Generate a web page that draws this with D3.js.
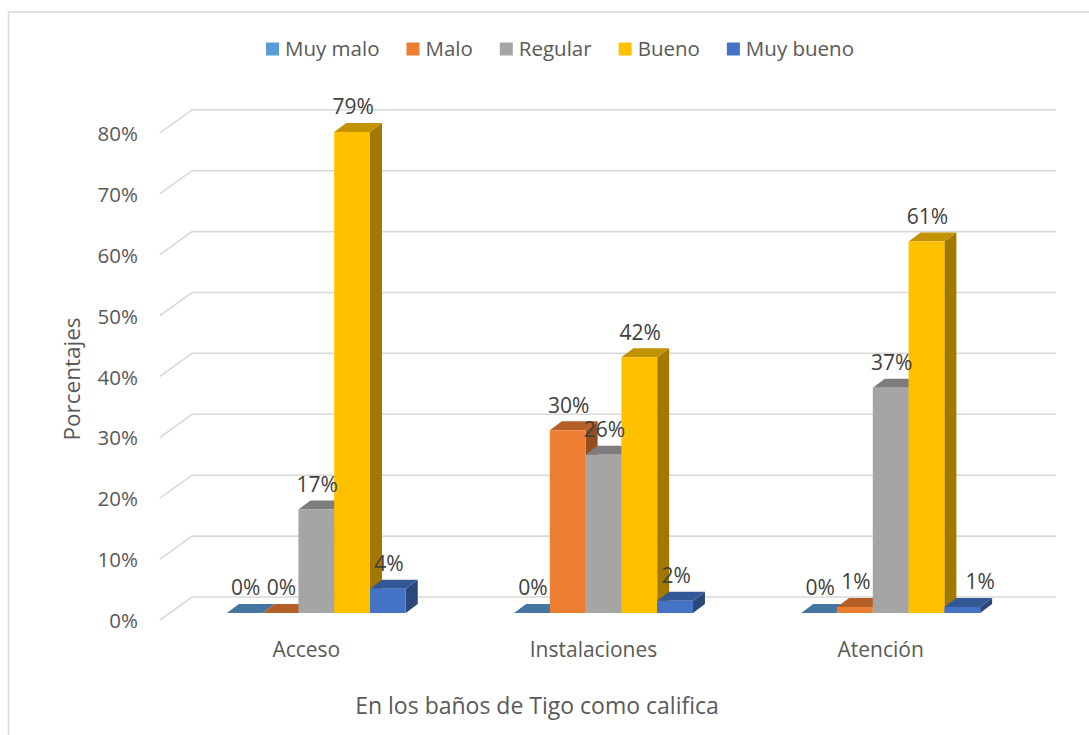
<!DOCTYPE html>
<html>
<head>
<meta charset="utf-8">
<script src="https://cdn.jsdelivr.net/npm/d3@7/dist/d3.min.js"></script>
<style>
  html, body { margin: 0; padding: 0; background: #fff; }
  svg { display: block; font-family: "Open Sans", "Noto Sans", sans-serif; }
</style>
</head>
<body>
<svg id="chart" width="1089" height="735"></svg>
<script>
const categories = ["Acceso", "Instalaciones", "Atención"];
const seriesNames = ["Muy malo", "Malo", "Regular", "Bueno", "Muy bueno"];
const muyMalo  = [0, 0, 0];
const malo     = [0, 30, 1];
const regular  = [17, 26, 37];
const bueno    = [79, 42, 61];
const muyBueno = [4, 2, 1];
const tickValues = [0, 10, 20, 30, 40, 50, 60, 70, 80];
const seriesColors = ["#5B9BD5", "#ED7D31", "#A5A5A5", "#FFC000", "#4472C4"];
const yTitle = "Porcentajes";
const xTitle = "En los baños de Tigo como califica";

const seriesValues = [muyMalo, malo, regular, bueno, muyBueno];

const svg = d3.select("#chart");

// chart frame
svg.append("rect").attr("x", 8.5).attr("y", 12).attr("width", 1200).attr("height", 900)
  .attr("fill", "#fff").attr("stroke", "#D9D9D9").attr("stroke-width", 1.5);

// 3D geometry
const depthX = 12, depthY = -9;
const wallDX = 32, wallDY = -23;
const frontBase = 613;
const backBase = 597;

const yFront = d3.scaleLinear().domain([0, 80]).range([frontBase, frontBase - 487.2]);
const yBack = d3.scaleLinear().domain([0, 80]).range([backBase, backBase - 487.2]);

const x0 = d3.scaleBand().domain(categories).range([173, 1034])
  .paddingInner(0.377).paddingOuter(0.1875);
const x1 = d3.scaleBand().domain(seriesNames).range([0, x0.bandwidth()]).padding(0);

const wallLeft = 160, wallRight = 1056;

// gridlines
const grid = svg.append("g");
tickValues.forEach(v => {
  const yb = yBack(v);
  grid.append("path")
    .attr("d", `M${wallLeft},${yb - wallDY} L${wallLeft + wallDX},${yb} L${wallRight},${yb}`)
    .attr("fill", "none").attr("stroke", "#D9D9D9").attr("stroke-width", 1.6);
});

// y tick labels
svg.append("g").selectAll("text").data(tickValues).join("text")
  .attr("x", 138).attr("y", d => yBack(d) - wallDY + 1)
  .attr("dy", "0.35em").attr("text-anchor", "end")
  .attr("font-size", 20.5).attr("fill", "#595959")
  .text(d => d + "%");

// bars
const bars = svg.append("g");
const bw = x1.bandwidth();
categories.forEach((cat, ci) => {
  seriesNames.forEach((s, si) => {
    const v = seriesValues[si][ci];
    const xl = x0(cat) + x1(s);
    const yt = yFront(v);
    const base = d3.color(seriesColors[si]);
    const topC = d3.rgb(base.r * 0.76, base.g * 0.76, base.b * 0.76);
    const sideC = d3.rgb(base.r * 0.63, base.g * 0.63, base.b * 0.63);
    const g = bars.append("g");
    g.append("path")
      .attr("d", `M${xl + bw},${yt} L${xl + bw + depthX},${yt + depthY} L${xl + bw + depthX},${frontBase + depthY} L${xl + bw},${frontBase} Z`)
      .attr("fill", sideC);
    g.append("path")
      .attr("d", `M${xl},${yt} L${xl + bw},${yt} L${xl + bw + depthX},${yt + depthY} L${xl + depthX},${yt + depthY} Z`)
      .attr("fill", topC);
    if (frontBase - yt > 0.5) {
      g.append("rect").attr("x", xl).attr("y", yt).attr("width", bw)
        .attr("height", frontBase - yt).attr("fill", seriesColors[si]);
    }
  });
});

// data labels
const labels = svg.append("g");
categories.forEach((cat, ci) => {
  seriesNames.forEach((s, si) => {
    const v = seriesValues[si][ci];
    // the last label of the last group sits slightly to the right in the original
    const nudge = (ci === categories.length - 1 && si === seriesNames.length - 1) ? 17 : 0;
    labels.append("text")
      .attr("x", x0(cat) + x1(s) + bw / 2 + 1 + nudge)
      .attr("y", yFront(v) - 25)
      .attr("dy", "0.35em").attr("text-anchor", "middle")
      .attr("font-size", 21).attr("fill", "#404040")
      .text(v + "%");
  });
});

// category labels
svg.append("g").selectAll("text").data(categories).join("text")
  .attr("x", d => x0(d) + x0.bandwidth() / 2 - 10)
  .attr("y", 650).attr("dy", "0.35em").attr("text-anchor", "middle")
  .attr("font-size", 21).attr("fill", "#595959")
  .text(d => d);

// axis titles
svg.append("text")
  .attr("transform", "translate(72,379) rotate(-90)")
  .attr("dy", "0.35em").attr("text-anchor", "middle")
  .attr("font-size", 22.5).attr("fill", "#595959").text(yTitle);
svg.append("text")
  .attr("x", 537).attr("y", 706).attr("dy", "0.35em").attr("text-anchor", "middle")
  .attr("font-size", 23).attr("fill", "#595959").text(xTitle);

// legend
const legend = svg.append("g");
const items = seriesNames.map((name, i) => {
  const g = legend.append("g");
  g.append("rect").attr("x", 0).attr("y", -6.5).attr("width", 13).attr("height", 13)
    .attr("fill", seriesColors[i]);
  const t = g.append("text").attr("x", 19).attr("y", 0).attr("dy", "0.35em")
    .attr("font-size", 20.5).attr("fill", "#595959").text(name);
  return { g, w: 19 + t.node().getComputedTextLength() };
});
const gap = 27;
const total = d3.sum(items, d => d.w) + gap * (items.length - 1);
let lx = 560 - total / 2;
items.forEach(it => {
  it.g.attr("transform", `translate(${lx},49)`);
  lx += it.w + gap;
});
</script>
</body>
</html>
